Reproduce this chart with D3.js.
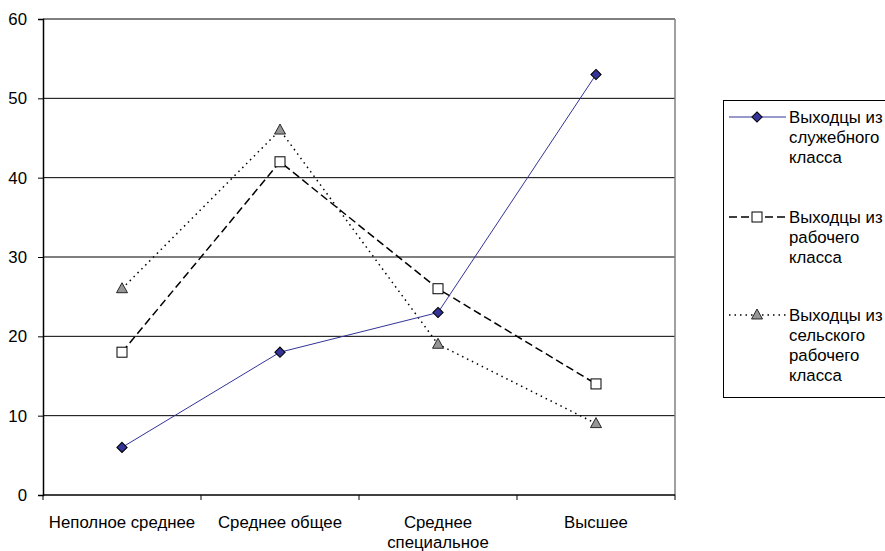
<!DOCTYPE html>
<html>
<head>
<meta charset="utf-8">
<script src="https://cdn.jsdelivr.net/npm/d3@7"></script>
<style>
body { margin: 0; background: #fff; }
text { font-family: "Liberation Sans", Arial, sans-serif; }
</style>
</head>
<body>
<div class="chart"></div>
<script>
"use strict";
(function(){

var categories = [["Неполное среднее"], ["Среднее общее"], ["Среднее", "специальное"], ["Высшее"]];
var serviceClass = [6, 18, 23, 53];
var workingClass = [18, 42, 26, 14];
var ruralClass = [26, 46, 19, 9];
var yTicks = [0, 10, 20, 30, 40, 50, 60];
var seriesNames = [
  ["Выходцы из", "служебного", "класса"],
  ["Выходцы из", "рабочего", "класса"],
  ["Выходцы из", "сельского", "рабочего", "класса"]
];

var width = 885;
var height = 551;
var fontSize = 16.8;

var svg = d3.select('.chart')
            .append('svg')
            .attr('width', width)
            .attr('height', height);

var left = 43, right = 675, top = 19, bottom = 495;

var x = d3.scaleBand().domain(d3.range(categories.length)).range([left, right]);
var y = d3.scaleLinear().domain([0, 60]).range([bottom, top]);

// grid lines
svg.selectAll('.grid')
   .data(yTicks.filter(function(d){ return d > 0; }))
   .enter().append('line')
   .attr('x1', left).attr('x2', right)
   .attr('y1', function(d){ return y(d); })
   .attr('y2', function(d){ return y(d); })
   .attr('stroke', '#000')
   .attr('stroke-width', 1);

// right border
svg.append('line')
   .attr('x1', right).attr('x2', right)
   .attr('y1', top).attr('y2', bottom)
   .attr('stroke', '#808080').attr('stroke-width', 1.5);

// y axis
var yAxis = svg.append('g')
   .attr('transform', 'translate(' + left + ',0)')
   .call(d3.axisLeft(y).tickValues(yTicks).tickSize(5).tickPadding(11));
yAxis.select('.domain').attr('stroke', '#000').attr('stroke-width', 1.5);
yAxis.selectAll('text').attr('font-size', fontSize).attr('fill', '#000')
     .attr('font-family', '"Liberation Sans", Arial, sans-serif');

// x axis
var xAxis = svg.append('g')
   .attr('transform', 'translate(0,' + bottom + ')');
xAxis.append('line')
   .attr('x1', left).attr('x2', right)
   .attr('stroke', '#000').attr('stroke-width', 1.5);
xAxis.selectAll('.xtick')
   .data(d3.range(categories.length + 1))
   .enter().append('line')
   .attr('x1', function(d){ return left + d * x.step(); })
   .attr('x2', function(d){ return left + d * x.step(); })
   .attr('y1', 0).attr('y2', 5)
   .attr('stroke', '#000');
xAxis.selectAll('.xlabel')
   .data(categories)
   .enter().append('text')
   .attr('text-anchor', 'middle')
   .attr('font-size', fontSize)
   .attr('x', function(d, i){ return x(i) + x.bandwidth() / 2; })
   .attr('y', 33)
   .each(function(d){
     var t = d3.select(this);
     d.forEach(function(line, j){
       t.append('tspan').attr('x', t.attr('x')).attr('dy', j === 0 ? 0 : 20).text(line);
     });
   });

var cx = function(d, i){ return x(i) + x.bandwidth() / 2; };
var line = d3.line().x(cx).y(function(d){ return y(d); });

var series = [
  {values: serviceClass, stroke: '#333399', dash: null, width: 1, marker: 'diamond'},
  {values: workingClass, stroke: '#000', dash: '8,4', width: 1.5, marker: 'square'},
  {values: ruralClass, stroke: '#000', dash: '1.5,4', width: 1.5, marker: 'triangle'}
];

function drawMarker(g, type, px, py) {
  if (type === 'diamond') {
    g.append('path')
     .attr('d', d3.symbol().type(d3.symbolDiamond2).size(60)())
     .attr('transform', 'translate(' + px + ',' + py + ') scale(1.05)')
     .attr('fill', '#333399').attr('stroke', '#000').attr('stroke-width', 1);
  } else if (type === 'square') {
    g.append('rect')
     .attr('x', px - 5).attr('y', py - 5)
     .attr('width', 10).attr('height', 10)
     .attr('fill', '#fff').attr('stroke', '#000').attr('stroke-width', 1);
  } else {
    g.append('path')
     .attr('d', 'M' + px + ',' + (py - 6) + 'L' + (px + 5.5) + ',' + (py + 4) + 'L' + (px - 5.5) + ',' + (py + 4) + 'Z')
     .attr('fill', '#969696').attr('stroke', '#000').attr('stroke-width', 0.8);
  }
}

// draw in reverse so blue sits on top
series.slice().reverse().forEach(function(s){
  svg.append('path')
     .datum(s.values)
     .attr('d', line)
     .attr('fill', 'none')
     .attr('stroke', s.stroke)
     .attr('stroke-width', s.width)
     .attr('stroke-dasharray', s.dash);
  var g = svg.append('g');
  s.values.forEach(function(v, i){
    drawMarker(g, s.marker, cx(v, i), y(v));
  });
});

// legend
var legend = svg.append('g');
legend.append('rect')
      .attr('x', 723.5).attr('y', 100.5)
      .attr('width', 200).attr('height', 297)
      .attr('fill', '#fff').attr('stroke', '#000').attr('stroke-width', 1);

var legendY = [117, 217, 315];
series.forEach(function(s, i){
  var ly = legendY[i];
  legend.append('line')
        .attr('x1', 729).attr('x2', 786)
        .attr('y1', ly).attr('y2', ly)
        .attr('stroke', s.stroke)
        .attr('stroke-width', s.width)
        .attr('stroke-dasharray', s.dash);
  drawMarker(legend, s.marker, 757, ly);
  var t = legend.append('text')
        .attr('x', 789).attr('y', ly + 6)
        .attr('font-size', fontSize);
  seriesNames[i].forEach(function(name, j){
    t.append('tspan').attr('x', 789).attr('dy', j === 0 ? 0 : 20).text(name);
  });
});

})();
</script>
</body>
</html>
